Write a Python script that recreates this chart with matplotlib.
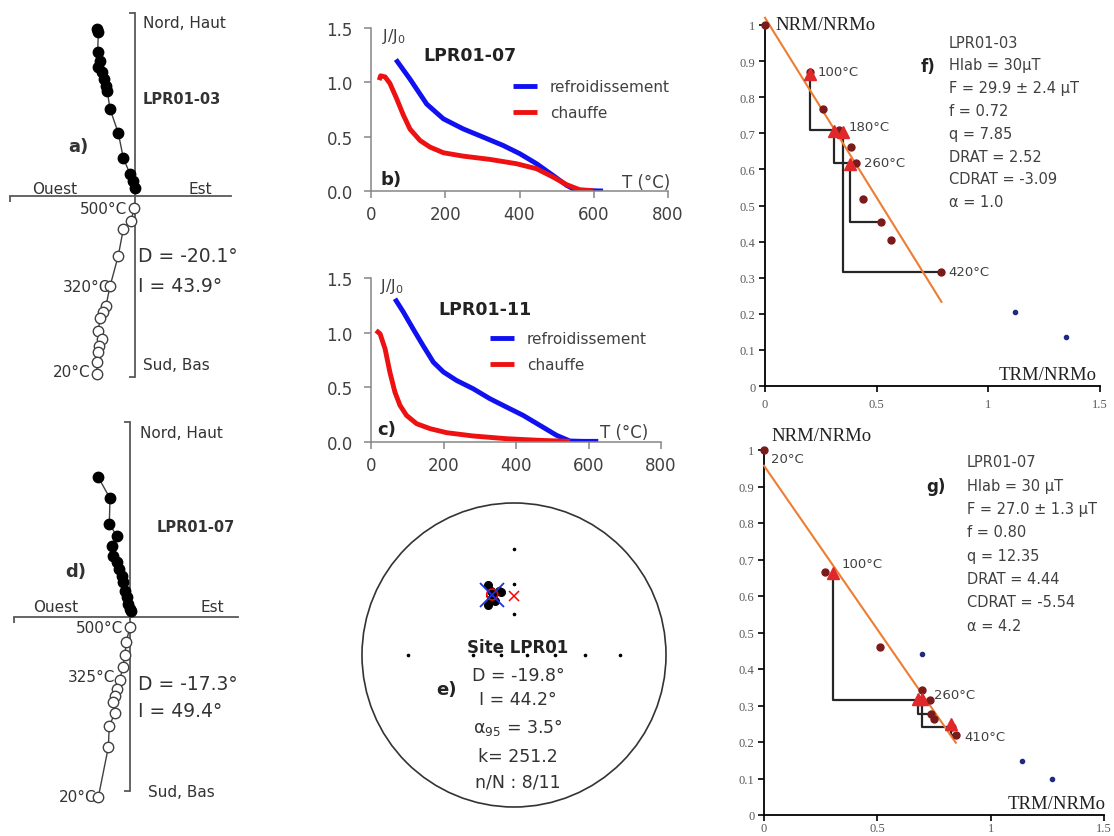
import numpy as np
import matplotlib
matplotlib.use("Agg")
import matplotlib.pyplot as plt
from matplotlib.patches import Circle

W, H = 1114, 837

# ---- a) Zijderveld LPR01-03 (horizontal: E vs N, vertical: E vs Up)
a_east_h = [-0.383, -0.367, -0.373, -0.35, -0.367, -0.333, -0.31, -0.29, -0.277, -0.25, -0.167, -0.117, -0.05, -0.023, 0.0]
a_north = [1.67, 1.64, 1.44, 1.35, 1.29, 1.24, 1.17, 1.10, 1.05, 0.87, 0.63, 0.38, 0.22, 0.15, 0.08]
a_east_v = [-0.007, -0.04, -0.117, -0.167, -0.25, -0.29, -0.317, -0.35, -0.367, -0.333, -0.357, -0.367, -0.377, -0.383]
a_up = [-0.123, -0.247, -0.33, -0.597, -0.903, -1.097, -1.163, -1.223, -1.347, -1.43, -1.497, -1.563, -1.663, -1.78]

# ---- d) Zijderveld LPR01-07
d_east_h = [-0.317, -0.2, -0.207, -0.133, -0.183, -0.167, -0.133, -0.107, -0.083, -0.067, -0.05, -0.033, -0.017, 0.0, 0.007]
d_north = [1.397, 1.187, 0.93, 0.813, 0.713, 0.613, 0.547, 0.48, 0.413, 0.347, 0.263, 0.197, 0.13, 0.08, 0.063]
d_east_v = [0.0, -0.04, -0.05, -0.073, -0.1, -0.133, -0.15, -0.167, -0.15, -0.207, -0.217, -0.317]
d_up = [-0.103, -0.253, -0.38, -0.503, -0.627, -0.72, -0.787, -0.853, -0.96, -1.087, -1.303, -1.803]

# ---- b) thermomagnetic curve LPR01-07
b_T_cool = [67, 105, 150, 195, 248, 302, 356, 401, 446, 490, 527, 553, 589, 625]
b_J_cool = [1.21, 1.03, 0.80, 0.664, 0.572, 0.496, 0.419, 0.343, 0.251, 0.144, 0.052, 0.006, 0.003, 0.0]
b_T_heat = [22, 26, 38, 51, 69, 87, 105, 132, 159, 195, 248, 320, 392, 446, 490, 527, 562, 598]
b_J_heat = [1.02, 1.06, 1.05, 0.99, 0.85, 0.70, 0.57, 0.465, 0.404, 0.352, 0.321, 0.291, 0.251, 0.205, 0.129, 0.058, 0.012, 0.003]

# ---- c) thermomagnetic curve LPR01-11
c_T_cool = [66, 89, 117, 144, 172, 200, 236, 282, 328, 374, 420, 466, 512, 549, 586, 627]
c_J_cool = [1.31, 1.19, 1.03, 0.88, 0.73, 0.64, 0.563, 0.487, 0.396, 0.319, 0.243, 0.152, 0.061, 0.009, 0.006, 0.006]
c_T_heat = [14, 25, 39, 52, 66, 80, 98, 126, 163, 209, 282, 374, 466, 549]
c_J_heat = [1.02, 0.99, 0.85, 0.64, 0.456, 0.335, 0.243, 0.167, 0.122, 0.085, 0.055, 0.030, 0.015, 0.006]

# ---- e) site directions (declination, inclination)
e_dec = [-20.2, -20.0, -12.9, -11.4, -22.6, -26.9, -19.4, -18.8]
e_inc = [37.8, 41.8, 43.5, 44.4, 46.6, 49.2, 48.9, 44.4]
e_mean = (-19.8, 44.2)
e_a95 = 3.5
e_ref = (0.0, 47.3)
e_grid = [(0, 20), (0, 40), (0, 60), (90, 20), (90, 40), (90, 60), (90, 80),
          (270, 20), (270, 60), (270, 80)]

# ---- f) Arai LPR01-03
f_x = [0, 0.2, 0.259, 0.33, 0.387, 0.408, 0.438, 0.519, 0.563, 0.787]
f_y = [1.0, 0.87, 0.768, 0.708, 0.662, 0.619, 0.519, 0.454, 0.404, 0.316]
f_xo = [1.118, 1.347]
f_yo = [0.205, 0.137]
f_tx = [0.201, 0.308, 0.35, 0.379]
f_ty = [0.863, 0.706, 0.704, 0.616]
f_ref = [3, 5, 9, 7]
f_fit = (1.02, -0.996, 0.79)
f_lab = [("100°C", 0.237, 0.87), ("180°C", 0.376, 0.72), ("260°C", 0.443, 0.618), ("420°C", 0.82, 0.318)]
f_txt = ["LPR01-03", "Hlab = 30µT", "F = 29.9 ± 2.4 µT", "f = 0.72", "q = 7.85",
         "DRAT = 2.52", "CDRAT = -3.09", "α = 1.0"]

# ---- g) Arai LPR01-07
g_x = [0, 0.27, 0.51, 0.699, 0.731, 0.738, 0.75, 0.83, 0.846]
g_y = [1.0, 0.665, 0.461, 0.343, 0.315, 0.276, 0.264, 0.242, 0.218]
g_xo = [0.697, 1.138, 1.271]
g_yo = [0.441, 0.148, 0.1]
g_tx = [0.304, 0.679, 0.697, 0.826]
g_ty = [0.663, 0.319, 0.319, 0.249]
g_ref = [4, 5, 7, 8]
g_fit = (0.957, -0.897, 0.846)
g_lab = [("20°C", 0.031, 0.978), ("100°C", 0.344, 0.69), ("260°C", 0.75, 0.329), ("410°C", 0.882, 0.216)]
g_txt = ["LPR01-07", "Hlab = 30 µT", "F = 27.0 ± 1.3 µT", "f = 0.80", "q = 12.35",
         "DRAT = 4.44", "CDRAT = -5.54", "α = 4.2"]

TXT = '#333333'
GRAY = '#404040'

fig = plt.figure(figsize=(W / 100, H / 100), dpi=100)


def box(l, t, r, b):
    return [l / W, 1 - b / H, (r - l) / W, (b - t) / H]


def ftext(x, y, s, **kw):
    kw.setdefault('color', TXT)
    kw.setdefault('va', 'center')
    fig.text(x / W, 1 - y / H, s, **kw)


def zijder(rect, eh, nh, ev, uv, xlim, ylim):
    ax = fig.add_axes(rect)
    ax.set_xlim(xlim)
    ax.set_ylim(ylim)
    for s in ['top', 'right']:
        ax.spines[s].set_visible(False)
    for s in ['left', 'bottom']:
        ax.spines[s].set_position(('data', 0))
        ax.spines[s].set_color('#595959')
        ax.spines[s].set_linewidth(1.3)
    ax.set_xticks([xlim[0]])
    ax.set_yticks([ylim[0], ylim[1]])
    ax.tick_params(length=4, width=1.3, color='#595959', labelleft=False, labelbottom=False)
    ax.patch.set_alpha(0)
    ax.plot(eh, nh, '-', color=GRAY, lw=1, zorder=2, clip_on=False)
    ax.plot(eh, nh, 'o', color='black', ms=7.5, zorder=3, clip_on=False)
    ax.plot(ev, uv, '-', color=GRAY, lw=1, zorder=2, clip_on=False)
    ax.plot(ev, uv, 'o', mfc='white', mec=GRAY, mew=1, ms=7.5, zorder=3, clip_on=False)
    return ax


# a)
zijder(box(10, 14, 231, 378), a_east_h, a_north, a_east_v, a_up, (-1.25, 0.96), (-1.81, 1.83))
ftext(143, 23, "Nord, Haut", fontsize=11)
ftext(143, 365, "Sud, Bas", fontsize=11)
ftext(32, 189, "Ouest", fontsize=11)
ftext(188, 189, "Est", fontsize=11)
ftext(127, 209, "500°C", fontsize=11, ha='right')
ftext(110, 287, "320°C", fontsize=11, ha='right')
ftext(90, 373, "20°C", fontsize=11, ha='right')
ftext(138, 257, "D = -20.1°", fontsize=13.5)
ftext(138, 287, "I = 43.9°", fontsize=13.5)
ftext(143, 100, "LPR01-03", fontsize=10.5, fontweight='bold')
ftext(68, 147, "a)", fontsize=13, fontweight='bold')

# d)
zijder(box(14, 423, 238, 792), d_east_h, d_north, d_east_v, d_up, (-1.16, 1.08), (-1.74, 1.95))
ftext(140, 434, "Nord, Haut", fontsize=11)
ftext(148, 793, "Sud, Bas", fontsize=11)
ftext(33, 608, "Ouest", fontsize=11)
ftext(200, 608, "Est", fontsize=11)
ftext(123, 629, "500°C", fontsize=11, ha='right')
ftext(115, 678, "325°C", fontsize=11, ha='right')
ftext(97, 798, "20°C", fontsize=11, ha='right')
ftext(138, 685, "D = -17.3°", fontsize=13.5)
ftext(138, 712, "I = 49.4°", fontsize=13.5)
ftext(157, 527, "LPR01-07", fontsize=10.5, fontweight='bold')
ftext(65, 572, "d)", fontsize=13, fontweight='bold')


def thermo(rect, tc, jc, th, jh, pos):
    ax = fig.add_axes(rect)
    hb, = ax.plot(tc, jc, color='#1010f0', lw=3.5, solid_capstyle='butt')
    hr, = ax.plot(th, jh, color='#ee1111', lw=3.5, solid_capstyle='butt')
    ax.set_xlim(0, 800)
    ax.set_ylim(0, 1.5)
    ax.set_xticks([0, 200, 400, 600, 800])
    ax.set_yticks([0, 0.5, 1.0, 1.5])
    ax.set_yticklabels(['0.0', '0.5', '1.0', '1.5'])
    for s in ['top', 'right']:
        ax.spines[s].set_visible(False)
    for s in ['left', 'bottom']:
        ax.spines[s].set_color('#868686')
        ax.spines[s].set_linewidth(1.1)
    ax.tick_params(axis='both', length=5, width=1.1, color='#868686', labelsize=12, labelcolor=GRAY)
    ax.tick_params(axis='y', pad=8)
    ax.tick_params(axis='x', pad=5)
    ax.patch.set_alpha(0)
    lx, ly = pos
    ax.legend([hb, hr], ['refroidissement', 'chauffe'], loc='upper left',
              bbox_to_anchor=(lx / W, 1 - ly / H), bbox_transform=fig.transFigure,
              frameon=False, fontsize=11, handlelength=1.55, handletextpad=0.85,
              labelspacing=0.75, borderpad=0, borderaxespad=0, labelcolor=GRAY)
    return ax


# b)
thermo(box(371, 29, 668, 192), b_T_cool, b_J_cool, b_T_heat, b_J_heat, (513, 80))
ftext(382, 36, r"J/J$_0$", fontsize=11.5, color=GRAY)
ftext(423, 56, "LPR01-07", fontsize=12.5, fontweight='bold', color='#222222')
ftext(380, 180, "b)", fontsize=13, fontweight='bold', color='#222222')
ftext(670, 183, "T (°C)", fontsize=12, ha='right', color=GRAY)

# c)
thermo(box(371, 279, 661, 443), c_T_cool, c_J_cool, c_T_heat, c_J_heat, (490, 332))
ftext(380, 286, r"J/J$_0$", fontsize=11.5, color=GRAY)
ftext(438, 310, "LPR01-11", fontsize=12.5, fontweight='bold', color='#222222')
ftext(377, 430, "c)", fontsize=13, fontweight='bold', color='#222222')
ftext(648, 433, "T (°C)", fontsize=12, ha='right', color=GRAY)


# e) stereonet (Wulff)
def wulff(dec, inc):
    dec = np.radians(np.asarray(dec, float))
    inc = np.radians(np.asarray(inc, float))
    r = np.tan((np.pi / 2 - inc) / 2)
    return r * np.sin(dec), r * np.cos(dec)


ax = fig.add_axes(box(354, 496, 674, 816))
ax.set_xlim(-1.0526, 1.0526)
ax.set_ylim(-1.0526, 1.0526)
ax.set_aspect('equal')
ax.axis('off')
ax.add_patch(Circle((0, 0), 1.0, fill=False, ec='#333333', lw=1.2))
gd = np.array(e_grid)
gx, gy = wulff(gd[:, 0], gd[:, 1])
ax.plot(gx, gy, 'o', color='black', ms=1.6, ls='none')
sx, sy = wulff(e_dec, e_inc)
ax.plot(sx, sy, 'o', color='black', ms=5.5, ls='none', zorder=3)
# alpha95 small circle around the mean
md, mi = np.radians(e_mean[0]), np.radians(e_mean[1])
m = np.array([np.cos(mi) * np.cos(md), np.cos(mi) * np.sin(md), np.sin(mi)])
u = np.cross(m, [0, 0, 1.0]); u /= np.linalg.norm(u)
v = np.cross(m, u)
phi = np.linspace(0, 2 * np.pi, 100)
a = np.radians(e_a95)
pts = np.cos(a) * m[:, None] + np.sin(a) * (np.cos(phi) * u[:, None] + np.sin(phi) * v[:, None])
cd = np.degrees(np.arctan2(pts[1], pts[0]))
ci = np.degrees(np.arcsin(pts[2]))
cx, cy = wulff(cd, ci)
ax.plot(cx, cy, color='red', lw=1.2, zorder=4)
mx, my = wulff(e_mean[0], e_mean[1])
ax.plot(mx, my, 'x', color='#2030e0', ms=17, mew=1.3, zorder=5)
rx, ry = wulff(e_ref[0], e_ref[1])
ax.plot(rx, ry, 'x', color='red', ms=7, mew=1.1, zorder=5)

ftext(518, 648, "Site LPR01", fontsize=12, fontweight='bold', ha='center', color='#222222')
ftext(518, 676, "D = -19.8°", fontsize=12.5, ha='center')
ftext(518, 700, "I = 44.2°", fontsize=12.5, ha='center')
ftext(518, 728, "α$_{95}$ = 3.5°", fontsize=12.5, ha='center')
ftext(518, 757, "k= 251.2", fontsize=12.5, ha='center')
ftext(518, 783, "n/N : 8/11", fontsize=12.5, ha='center')
ftext(436, 690, "e)", fontsize=13, fontweight='bold', color='#222222')


def arai(rect, x, y, xo, yo, tx, ty, ref, fit, labs, xpad):
    ax = fig.add_axes(rect)
    ax.set_xlim(0, 1.5)
    ax.set_ylim(0, 1.0)
    for s in ['top', 'right']:
        ax.spines[s].set_visible(False)
    for s in ['left', 'bottom']:
        ax.spines[s].set_color('black')
        ax.spines[s].set_linewidth(1.3)
    ax.set_xticks([0, 0.5, 1.0, 1.5])
    ax.set_xticklabels(['0', '0.5', '1', '1.5'])
    yt = np.round(np.arange(0, 1.01, 0.1), 1)
    ax.set_yticks(yt)
    ax.set_yticklabels(['0'] + ['%.1f' % t for t in yt[1:-1]] + ['1'])
    ax.tick_params(length=4, width=1.2, labelsize=9, labelcolor='#595959')
    ax.tick_params(axis='x', pad=xpad)
    ax.tick_params(axis='y', pad=3)
    for lab in ax.get_xticklabels() + ax.get_yticklabels():
        lab.set_fontfamily('Liberation Serif')
    ax.patch.set_alpha(0)
    for i in range(len(tx)):
        j = ref[i]
        ax.plot([tx[i], tx[i], x[j]], [ty[i], y[j], y[j]], color='#262626', lw=1.6, zorder=2)
    b0, s1, xe = fit
    xf = np.array([0, xe])
    ax.plot(xf, b0 + s1 * xf, color='#ED7D31', lw=1.5, zorder=3, clip_on=False)
    ax.plot(x, y, 'o', color='#7a1a1a', ms=5, zorder=4, clip_on=False)
    ax.plot(xo, yo, 'o', color='#1f2a80', ms=3, zorder=4)
    ax.plot(tx, ty, '^', color='#e0282a', ms=9, zorder=5)
    for s, lx, ly in labs:
        ax.text(lx, ly, s, fontsize=9.5, color=GRAY, va='center')
    return ax


# f)
arai(box(765, 26, 1100, 387), f_x, f_y, f_xo, f_yo, f_tx, f_ty, f_ref, f_fit, f_lab, 5)
ftext(775, 26, "NRM/NRMo", fontsize=13.5, family='Liberation Serif', color='#222222')
ftext(1097, 376, "TRM/NRMo", fontsize=13.5, family='Liberation Serif', color='#222222', ha='right')
for k, s in enumerate(f_txt):
    ftext(949, 43 + k * 22.8, s, fontsize=10.5, color=GRAY)
ftext(921, 67, "f)", fontsize=12, fontweight='bold', color='#222222')

# g)
arai(box(764, 451, 1104, 816), g_x, g_y, g_xo, g_yo, g_tx, g_ty, g_ref, g_fit, g_lab, 1)
ftext(771, 437, "NRM/NRMo", fontsize=13.5, family='Liberation Serif', color='#222222')
ftext(1106, 805, "TRM/NRMo", fontsize=13.5, family='Liberation Serif', color='#222222', ha='right')
for k, s in enumerate(g_txt):
    ftext(967, 463 + k * 23.3, s, fontsize=10.5, color=GRAY)
ftext(926, 487, "g)", fontsize=12, fontweight='bold', color='#222222')

fig.savefig('out.png', dpi=100)
